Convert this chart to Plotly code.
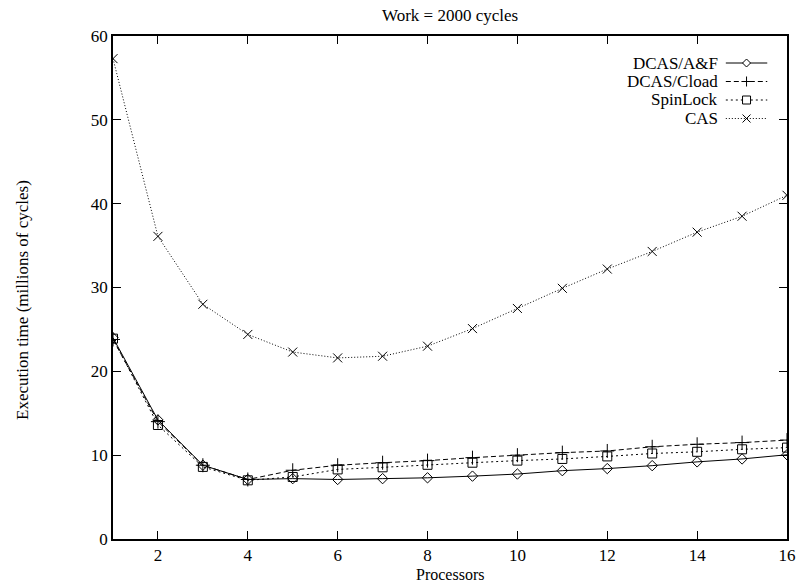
import plotly.graph_objects as go

processors = list(range(1, 17))
dcas_af = [24.0, 14.2, 8.8, 7.1, 7.2, 7.1, 7.2, 7.3, 7.5, 7.75, 8.15, 8.4, 8.75, 9.2, 9.55, 10.05]
dcas_cload = [23.8, 14.0, 8.8, 7.1, 8.2, 8.8, 9.1, 9.35, 9.7, 10.0, 10.3, 10.5, 11.0, 11.3, 11.5, 11.8]
spinlock = [23.9, 13.6, 8.6, 7.0, 7.4, 8.3, 8.55, 8.85, 9.1, 9.35, 9.55, 9.85, 10.2, 10.4, 10.7, 10.9]
cas = [57.3, 36.1, 28.0, 24.4, 22.3, 21.6, 21.8, 23.0, 25.1, 27.5, 29.9, 32.2, 34.3, 36.6, 38.5, 41.0]

series_names = ["DCAS/A&F", "DCAS/Cload", "SpinLock", "CAS"]
series_values = [dcas_af, dcas_cload, spinlock, cas]
x_ticks = [2, 4, 6, 8, 10, 12, 14, 16]
y_ticks = [0, 10, 20, 30, 40, 50, 60]

styles = [
    dict(dash="solid", symbol="diamond-open", size=8),
    dict(dash="5px,3px", symbol="cross-thin-open", size=10),
    dict(dash="2px,3px", symbol="square-open", size=9),
    dict(dash="1px,2px", symbol="x-thin-open", size=9),
]

FONT = "Liberation Serif"
W, H = 804, 585
L, R, T, B = 113, 8, 36, 46
PW, PH = W - L - R, H - T - B

fig = go.Figure()
for name, vals, st in zip(series_names, series_values, styles):
    fig.add_trace(go.Scatter(
        x=processors, y=vals, name=name, mode="lines+markers",
        line=dict(color="black", width=1, dash=st["dash"]),
        marker=dict(symbol=st["symbol"], size=st["size"], color="black",
                    line=dict(color="black", width=1)),
        showlegend=False,
    ))

def px_to_paper_x(px):
    return (px - L) / PW

def px_to_paper_y(py):
    return (H - B - py) / PH

# gnuplot-style legend: text right-aligned, sample on the right
shapes = []
annotations = []
row_y = [63, 81.5, 100, 118.5]
marker_paths = {
    "diamond-open": "M -4 0 L 0 4 L 4 0 L 0 -4 Z",
    "cross-thin-open": "M -5 0 L 5 0 M 0 -5 L 0 5",
    "square-open": "M -4 -4 L 4 -4 L 4 4 L -4 4 Z",
    "x-thin-open": "M -4 -4 L 4 4 M -4 4 L 4 -4",
}
for name, st, py in zip(series_names, styles, row_y):
    yp = px_to_paper_y(py)
    annotations.append(dict(
        text=name, xref="paper", yref="paper", x=px_to_paper_x(728), y=yp,
        xanchor="right", yanchor="middle", showarrow=False,
        font=dict(family=FONT, size=17, color="black"),
    ))
    shapes.append(dict(
        type="line", xref="paper", yref="paper",
        x0=px_to_paper_x(734), x1=px_to_paper_x(776), y0=yp, y1=yp,
        line=dict(color="black", width=1, dash=st["dash"]),
    ))
    shapes.append(dict(
        type="path", xref="paper", yref="paper",
        xsizemode="pixel", ysizemode="pixel",
        xanchor=px_to_paper_x(755), yanchor=yp,
        path=marker_paths[st["symbol"]],
        line=dict(color="black", width=1), fillcolor="white",
    ))

annotations.append(dict(
    text="Execution time (millions of cycles)", xref="paper", yref="paper",
    x=0, y=px_to_paper_y(300), xshift=-(L - 22), textangle=-90,
    xanchor="center", yanchor="middle", showarrow=False,
    font=dict(family=FONT, size=17, color="black"),
))
annotations.append(dict(
    text="Processors", xref="paper", yref="paper",
    x=0.5, y=px_to_paper_y(574), xanchor="center", yanchor="middle",
    showarrow=False, font=dict(family=FONT, size=16, color="black"),
))
annotations.append(dict(
    text="Work = 2000 cycles", xref="paper", yref="paper",
    x=0.5, y=px_to_paper_y(16), xanchor="center", yanchor="middle",
    showarrow=False, font=dict(family=FONT, size=17, color="black"),
))

axis_common = dict(
    showgrid=False, zeroline=False, showline=True, linecolor="black",
    linewidth=1.5, mirror="allticks", ticks="inside", ticklen=8,
    tickcolor="black", tickwidth=1,
    tickfont=dict(family=FONT, size=17, color="black"),
)

fig.update_layout(
    width=W, height=H,
    margin=dict(l=L, r=R, t=T, b=B),
    plot_bgcolor="white", paper_bgcolor="white",
    xaxis=dict(range=[1, 16], tickvals=x_ticks, **axis_common),
    yaxis=dict(range=[0, 60], tickvals=y_ticks, **axis_common),
    shapes=shapes, annotations=annotations, showlegend=False,
)

fig.write_html("out.html")
